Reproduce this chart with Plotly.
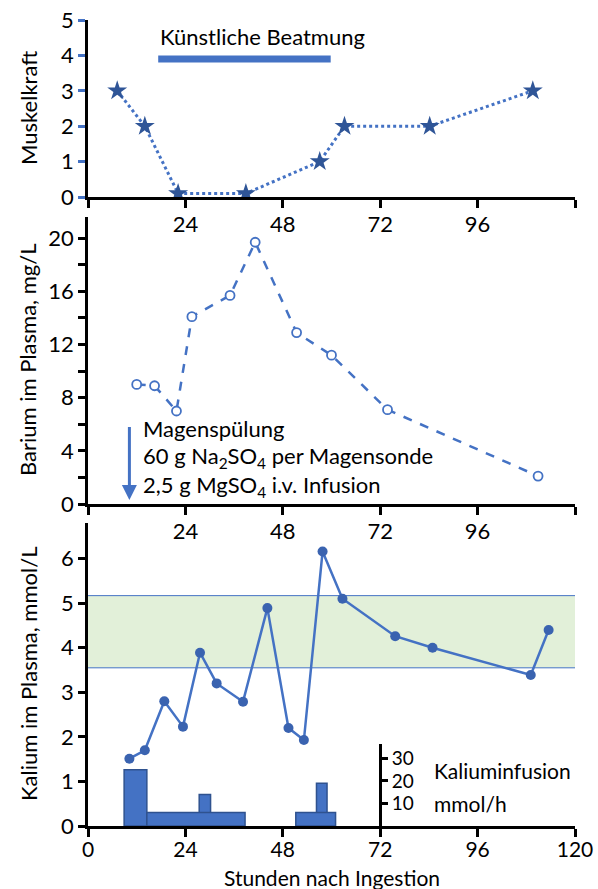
import plotly.graph_objects as go

# ---------------- data ----------------
hours_muscle = [7.2, 14.0, 22.2, 38.9, 57.1, 63.2, 84.2, 109.6]
muscle = [3, 2, 0.1, 0.1, 1, 2, 2, 3]
vent_hours = [17.3, 59.8]
vent_level = [3.9, 3.9]

hours_ba = [12.0, 16.4, 21.8, 25.6, 35.0, 41.2, 51.4, 60.0, 73.8, 110.9]
barium = [9.0, 8.9, 7.0, 14.1, 15.7, 19.7, 12.9, 11.2, 7.1, 2.1]
lavage_hour = 10.2

hours_k = [10.2, 14.0, 18.8, 23.4, 27.6, 31.7, 38.2, 44.2, 49.4, 53.2,
           57.8, 62.7, 75.7, 84.9, 109.1, 113.5]
kalium = [1.51, 1.7, 2.8, 2.23, 3.89, 3.2, 2.79, 4.89, 2.2, 1.93,
          6.16, 5.1, 4.26, 4.0, 3.39, 4.4]
normal_k = [3.55, 5.17]

inf_start = [27.4, 56.3, 8.9, 14.5, 51.2]
inf_end = [30.2, 58.9, 14.5, 38.7, 61.0]
inf_rate = [14, 19, 25, 6, 6]

x_ticks = [0, 24, 48, 72, 96, 120]

# ---------------- style ----------------
BLUE = "#4472C4"
DARK = "#2F5597"
FONT = "Lato"
FS = 22
H = 889

def py(p):
    return (H - p) / H

fig = go.Figure()

# top panel
fig.add_trace(go.Scatter(x=vent_hours, y=vent_level, mode="lines",
                         line=dict(color=BLUE, width=7), xaxis="x", yaxis="y",
                         showlegend=False, hoverinfo="skip"))
fig.add_trace(go.Scatter(x=hours_muscle, y=muscle, mode="lines+markers",
                         line=dict(color=BLUE, width=3, dash="dot"),
                         marker=dict(symbol="star", size=15, color=DARK),
                         xaxis="x", yaxis="y", showlegend=False))

# middle panel
fig.add_trace(go.Scatter(x=hours_ba, y=barium, mode="lines+markers",
                         line=dict(color=BLUE, width=2.5, dash="dash"),
                         marker=dict(symbol="circle", size=9, color="white",
                                     line=dict(color=BLUE, width=1.8)),
                         xaxis="x2", yaxis="y2", showlegend=False))

# bottom panel
fig.add_shape(type="rect", xref="x3", yref="y3", x0=0, x1=120,
              y0=normal_k[0], y1=normal_k[1], fillcolor="#E2F0D9",
              line=dict(width=0), layer="below")
for v in normal_k:
    fig.add_shape(type="line", xref="x3", yref="y3", x0=0, x1=120, y0=v, y1=v,
                  line=dict(color=BLUE, width=1), layer="below")

fig.add_trace(go.Bar(x=[(s + e) / 2 for s, e in zip(inf_start, inf_end)],
                     width=[e - s for s, e in zip(inf_start, inf_end)],
                     y=inf_rate, base=0,
                     marker=dict(color=BLUE, line=dict(color="#2F528F", width=1.5)),
                     xaxis="x3", yaxis="y4", showlegend=False))

fig.add_trace(go.Scatter(x=hours_k, y=kalium, mode="lines+markers",
                         line=dict(color=BLUE, width=2.5),
                         marker=dict(symbol="circle", size=10, color="#3A63B0"),
                         xaxis="x3", yaxis="y3", showlegend=False))

axis_common = dict(showline=True, linecolor="black", linewidth=2.5,
                   ticks="outside", tickwidth=2.5, ticklen=8, tickcolor="black",
                   showgrid=False, zeroline=False, automargin=False,
                   tickfont=dict(family=FONT, size=FS, color="black"))

xlab_inner = ["", "24", "48", "72", "96", ""]
xlab_outer = ["0", "24", "48", "72", "96", "120"]

fig.update_layout(
    width=598, height=889,
    margin=dict(l=88, r=23, t=0, b=0),
    plot_bgcolor="rgba(0,0,0,0)", paper_bgcolor="white",
    font=dict(family=FONT, size=FS, color="black"),
    barmode="overlay",
    xaxis=dict(axis_common, domain=[0, 1], range=[0, 120], anchor="y",
               tickvals=x_ticks, ticktext=xlab_inner, ticklabelstandoff=-2),
    yaxis=dict(axis_common, domain=[py(197), py(20)], range=[0, 5], anchor="x",
               tickvals=[0, 1, 2, 3, 4, 5], tickcolor=BLUE, ticklen=7),
    xaxis2=dict(axis_common, domain=[0, 1], range=[0, 120], anchor="y2",
                tickvals=x_ticks, ticktext=xlab_inner, ticklabelstandoff=-2),
    yaxis2=dict(axis_common, domain=[py(504), py(217)], range=[0, 21.6], anchor="x2",
                tickvals=list(range(0, 21, 2)),
                ticktext=[str(v) if v % 4 == 0 else "" for v in range(0, 21, 2)],
                ticklen=7),
    xaxis3=dict(axis_common, domain=[0, 1], range=[0, 120], anchor="y3",
                tickvals=x_ticks, ticktext=xlab_outer, ticklabelstandoff=-5,
                tickfont=dict(family=FONT, size=21, color="black")),
    yaxis3=dict(axis_common, domain=[py(826), py(523)], range=[0, 6.8], anchor="x3",
                tickvals=[0, 1, 2, 3, 4, 5, 6], ticklen=7),
    yaxis4=dict(axis_common, domain=[py(826), py(744)], range=[0, 36.4],
                anchor="free", position=0.6, side="right",
                tickvals=[10, 20, 30], ticklen=6, ticklabelstandoff=0,
                tickfont=dict(family=FONT, size=19, color="black")),
)

ann = []
# y-axis titles
for txt, yc in [("Muskelkraft", 108), ("Barium im Plasma, mg/L", 360),
                ("Kalium im Plasma, mmol/L", 674)]:
    ann.append(dict(text=txt, xref="paper", yref="paper", x=(28 - 88) / 487, y=py(yc),
                    textangle=-90, showarrow=False, xanchor="center", yanchor="middle",
                    font=dict(family=FONT, size=FS)))
ann.append(dict(text="Stunden nach Ingestion", xref="paper", yref="paper", x=0.5, y=py(877),
                showarrow=False, xanchor="center", yanchor="middle", borderpad=0,
                font=dict(family=FONT, size=21)))
ann.append(dict(text="Künstliche Beatmung", xref="x", yref="y", x=vent_hours[0], y=4.52,
                showarrow=False, xanchor="left", yanchor="middle",
                font=dict(family=FONT, size=FS)))
# lavage arrow
ann.append(dict(text="", xref="x2", yref="y2", axref="x2", ayref="y2",
                x=lavage_hour, y=0.3, ax=lavage_hour, ay=5.9,
                showarrow=True, arrowhead=2, arrowsize=1, arrowwidth=3, arrowcolor=BLUE))
for txt, yv in [("Magenspülung", 5.7),
                ("60 g Na<sub>2</sub>SO<sub>4</sub> per Magensonde", 3.55),
                ("2,5 g MgSO<sub>4</sub> i.v. Infusion", 1.35)]:
    ann.append(dict(text=txt, xref="x2", yref="y2", x=13.0, y=yv, showarrow=False,
                    xanchor="left", yanchor="middle", font=dict(family=FONT, size=FS)))
for txt, yv in [("Kaliuminfusion", 1.24), ("mmol/h", 0.5)]:
    ann.append(dict(text=txt, xref="x3", yref="y3", x=84.7, y=yv, showarrow=False,
                    xanchor="left", yanchor="middle", font=dict(family=FONT, size=FS - 1)))
fig.update_layout(annotations=ann)

fig.write_html("out.html", config={"displayModeBar": False},
               post_script="document.body.style.margin='0';document.body.style.overflow='hidden';")
